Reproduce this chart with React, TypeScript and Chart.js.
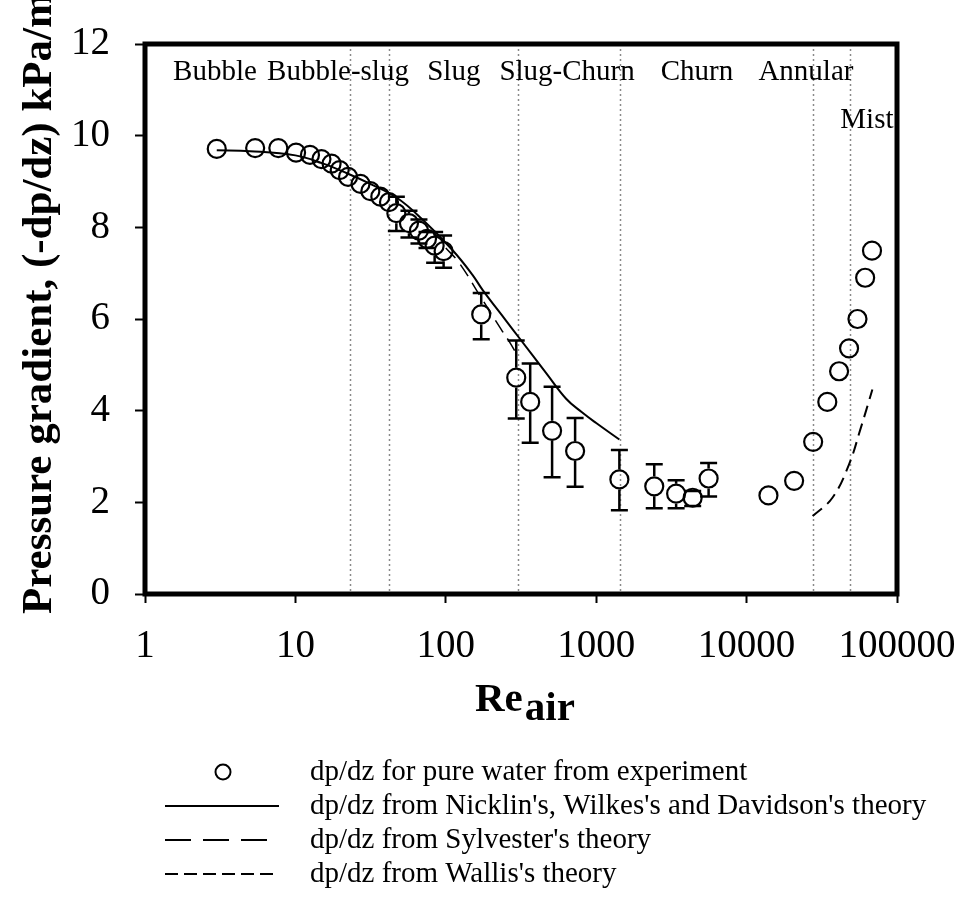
import React, { useEffect, useRef } from 'react';
import { Chart, registerables } from 'chart.js';

Chart.register(...registerables);

// ---------- data ----------
const reExp = [3.0, 5.4, 7.7, 10.1, 12.5, 14.9, 17.4, 19.7, 22.4, 27.1, 31.5, 36.7, 41.9, 46.9, 56.9, 66.3, 75, 84.3, 96.7,
  172, 294, 364, 509, 724, 1426, 2432, 3400, 4380, 5590, 13970, 20700, 27700, 34400, 41200, 48000, 54600, 61400, 68200];
const dpExp = [9.71, 9.73, 9.73, 9.63, 9.58, 9.49, 9.39, 9.25, 9.10, 8.95, 8.79, 8.67, 8.55, 8.31, 8.09, 7.93, 7.75, 7.60, 7.48,
  6.10, 4.72, 4.19, 3.56, 3.12, 2.50, 2.35, 2.19, 2.10, 2.52, 2.15, 2.47, 3.32, 4.19, 4.86, 5.36, 6.00, 6.90, 7.49];
const errLow: (number | null)[] = [null, null, null, null, null, null, null, null, null, null, null, null, null, 7.92, 7.78, 7.65, 7.55, 7.23, 7.12,
  5.56, 3.83, 3.30, 2.55, 2.34, 1.83, 1.87, 1.87, 1.92, 2.13, null, null, null, null, null, null, null, null, null];
const errHigh: (number | null)[] = [null, null, null, null, null, null, null, null, null, null, null, null, null, 8.67, 8.36, 8.17, 7.90, 7.90, 7.82,
  6.57, 5.53, 5.03, 4.52, 3.84, 3.14, 2.83, 2.48, 2.25, 2.86, null, null, null, null, null, null, null, null, null];

const reNicklin = [3, 5, 10, 15, 22, 30, 47, 70, 111, 150, 176, 252, 309, 465, 631, 800, 1000, 1426];
const dpNicklin = [9.68, 9.66, 9.57, 9.40, 9.18, 8.98, 8.65, 8.17, 7.50, 6.97, 6.63, 5.96, 5.58, 4.82, 4.26, 3.97, 3.73, 3.37];

const reSylvester = [100, 123, 170, 234, 265, 294];
const dpSylvester = [7.55, 7.22, 6.49, 5.77, 5.50, 5.25];

const reWallis = [27500, 37200, 48000, 57400, 68600];
const dpWallis = [1.70, 2.10, 2.83, 3.62, 4.46];

const regimeBounds = [23, 42, 300, 1450, 27500, 48500];
const regimeNames = ['Bubble', 'Bubble-slug', 'Slug', 'Slug-Churn', 'Churn', 'Annular', 'Mist'];
const regimeLabelRe = [2.92, 19.2, 113, 640, 4680, 24800, 63100];
const regimeLabelDp = [11.39, 11.39, 11.39, 11.39, 11.39, 11.39, 10.34];

const xTicks = [1, 10, 100, 1000, 10000, 100000];
const yTicks = [0, 2, 4, 6, 8, 10, 12];

const legendLabels = [
  'dp/dz for pure water from experiment',
  "dp/dz from Nicklin's, Wilkes's and Davidson's theory",
  "dp/dz from Sylvester's theory",
  "dp/dz from Wallis's theory",
];

const yTitle = 'Pressure gradient, (-dp/dz) kPa/m';

// ---------- chart ----------
const W = 964;
const H = 906;
const SERIF = '"Liberation Serif", "Times New Roman", serif';
const POINT_R = 9;

const decor = {
  id: 'decor',
  beforeDatasetsDraw(chart: any) {
    const { ctx, chartArea: a, scales } = chart;
    const x = scales.x, y = scales.y;
    ctx.save();
    // regime boundaries
    ctx.strokeStyle = '#8a8a8a';
    ctx.lineWidth = 1.5;
    ctx.setLineDash([2, 3]);
    regimeBounds.forEach((v) => {
      const px = Math.round(x.getPixelForValue(v)) + 0.5;
      ctx.beginPath();
      ctx.moveTo(px, a.top);
      ctx.lineTo(px, a.bottom);
      ctx.stroke();
    });
    ctx.setLineDash([]);
    // error bars
    ctx.strokeStyle = '#000';
    ctx.lineWidth = 2.5;
    const r = POINT_R + 1;
    const cap = 8.5;
    reExp.forEach((re, i) => {
      const lo = errLow[i], hi = errHigh[i];
      if (lo == null || hi == null) return;
      const px = x.getPixelForValue(re);
      const py = y.getPixelForValue(dpExp[i]);
      const yl = y.getPixelForValue(lo);
      const yh = y.getPixelForValue(hi);
      ctx.beginPath();
      if (yh < py - r) { ctx.moveTo(px, yh); ctx.lineTo(px, py - r); }
      if (yl > py + r) { ctx.moveTo(px, py + r); ctx.lineTo(px, yl); }
      ctx.moveTo(px - cap, yh); ctx.lineTo(px + cap, yh);
      ctx.moveTo(px - cap, yl); ctx.lineTo(px + cap, yl);
      ctx.stroke();
    });
    // regime labels
    ctx.fillStyle = '#000';
    ctx.font = `29px ${SERIF}`;
    ctx.textAlign = 'center';
    ctx.textBaseline = 'middle';
    regimeNames.forEach((n, i) => {
      ctx.fillText(n, x.getPixelForValue(regimeLabelRe[i]), y.getPixelForValue(regimeLabelDp[i]));
    });
    ctx.restore();
  },
  afterDraw(chart: any) {
    const { ctx, chartArea: a } = chart;
    ctx.save();
    // frame
    ctx.strokeStyle = '#000';
    ctx.lineWidth = 5;
    ctx.strokeRect(a.left, a.top, a.right - a.left, a.bottom - a.top);
    // y title
    ctx.fillStyle = '#000';
    ctx.save();
    ctx.translate(51, 614);
    ctx.rotate(-Math.PI / 2);
    ctx.font = `bold 43px ${SERIF}`;
    ctx.textAlign = 'left';
    ctx.textBaseline = 'alphabetic';
    ctx.fillText(yTitle, 0, 0);
    ctx.restore();
    // x title
    ctx.font = `bold 41px ${SERIF}`;
    ctx.textAlign = 'left';
    ctx.textBaseline = 'alphabetic';
    const reW = ctx.measureText('Re').width;
    ctx.fillText('Re', 475, 711);
    ctx.fillText('air', 475 + reW + 2, 720);
    // legend
    const rows = [772, 806, 840, 874];
    ctx.font = `29px ${SERIF}`;
    ctx.textBaseline = 'middle';
    legendLabels.forEach((t, i) => ctx.fillText(t, 310, rows[i]));
    ctx.lineWidth = 2;
    ctx.beginPath();
    ctx.arc(223, rows[0], 7.5, 0, Math.PI * 2);
    ctx.stroke();
    ctx.beginPath();
    ctx.moveTo(165, rows[1]); ctx.lineTo(279, rows[1]);
    ctx.stroke();
    ctx.setLineDash([26, 12]);
    ctx.beginPath();
    ctx.moveTo(165, rows[2]); ctx.lineTo(275, rows[2]);
    ctx.stroke();
    ctx.setLineDash([13, 6]);
    ctx.beginPath();
    ctx.moveTo(165, rows[3]); ctx.lineTo(279, rows[3]);
    ctx.stroke();
    ctx.restore();
  },
};

export default function App() {
  const ref = useRef<HTMLCanvasElement>(null);
  useEffect(() => {
    document.body.style.margin = '0';
    const canvas = ref.current!;
    const chart = new Chart(canvas, {
      type: 'scatter',
      data: {
        datasets: [
          {
            label: 'experiment',
            data: reExp.map((v, i) => ({ x: v, y: dpExp[i] })),
            pointStyle: 'circle',
            pointRadius: POINT_R,
            pointBorderWidth: 2.2,
            pointBorderColor: '#000',
            pointBackgroundColor: 'rgba(0,0,0,0)',
            showLine: false,
          },
          {
            label: 'Nicklin',
            data: reNicklin.map((v, i) => ({ x: v, y: dpNicklin[i] })),
            showLine: true,
            pointRadius: 0,
            borderColor: '#000',
            borderWidth: 2,
            tension: 0.4,
          },
          {
            label: 'Sylvester',
            data: reSylvester.map((v, i) => ({ x: v, y: dpSylvester[i] })),
            showLine: true,
            pointRadius: 0,
            borderColor: '#000',
            borderWidth: 1.5,
            borderDash: [14, 8],
            tension: 0.4,
          },
          {
            label: 'Wallis',
            data: reWallis.map((v, i) => ({ x: v, y: dpWallis[i] })),
            showLine: true,
            pointRadius: 0,
            borderColor: '#000',
            borderWidth: 2,
            borderDash: [12, 7],
            tension: 0.4,
          },
        ],
      },
      options: {
        responsive: false,
        animation: false,
        devicePixelRatio: 1,
        layout: { padding: { left: 0, top: 44, right: 67, bottom: 232 } },
        plugins: { legend: { display: false }, tooltip: { enabled: false } },
        scales: {
          x: {
            type: 'logarithmic',
            min: 1,
            max: 100000,
            afterBuildTicks: (s: any) => { s.ticks = xTicks.map((v) => ({ value: v })); },
            afterFit: (s: any) => { s.height = 80; s.paddingLeft = 0; s.paddingRight = 0; },
            ticks: {
              autoSkip: false,
              maxRotation: 0,
              padding: 20,
              color: '#000',
              font: { family: SERIF, size: 39 },
              callback: (v: any) => String(v),
            },
            grid: { display: true, drawOnChartArea: false, drawTicks: true, tickLength: 9, tickColor: '#000', tickWidth: 2, color: '#000' },
            border: { display: false },
          },
          y: {
            min: 0,
            max: 12,
            afterBuildTicks: (s: any) => { s.ticks = yTicks.map((v) => ({ value: v })); },
            afterFit: (s: any) => { s.width = 145; s.paddingTop = 0; s.paddingBottom = 0; },
            ticks: {
              padding: 25,
              color: '#000',
              font: { family: SERIF, size: 39 },
              callback: (v: any) => String(v),
            },
            grid: { display: true, drawOnChartArea: false, drawTicks: true, tickLength: 10, tickColor: '#000', tickWidth: 2, color: '#000' },
            border: { display: false },
          },
        },
      } as any,
      plugins: [decor],
    });
    return () => chart.destroy();
  }, []);
  return <canvas ref={ref} width={W} height={H} style={{ display: 'block', width: W, height: H }} />;
}
